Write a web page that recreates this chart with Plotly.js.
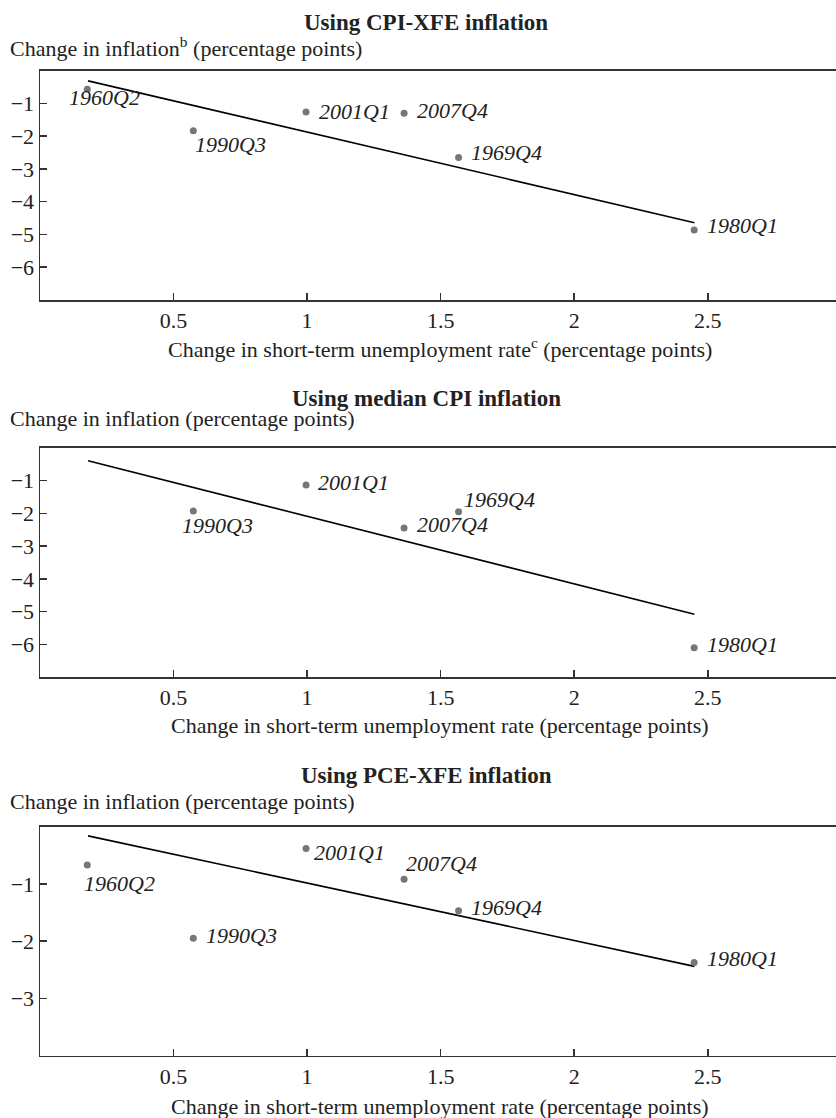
<!DOCTYPE html>
<html><head><meta charset="utf-8">
<script src="https://cdn.plot.ly/plotly-3.0.1.min.js"></script>
<style>html,body{margin:0;padding:0;background:#fff}#chart{width:836px;height:1118px}</style>
</head><body><div id="chart"></div>
<script>
// ---- data ----
const labels      = ['1960Q2','1969Q4','1980Q1','1990Q3','2001Q1','2007Q4'];
const unempChange = [0.177, 1.567, 2.449, 0.574, 0.996, 1.363];
const cpiXfe      = [-0.57, -2.65, -4.86, -1.83, -1.26, -1.30];
const medianCpi   = [null,  -1.95, -6.10, -1.93, -1.14, -2.45];
const pceXfe      = [-0.67, -1.47, -2.37, -1.95, -0.38, -0.92];
const fitX        = [0.18, 2.45];
const cpiXfeFit   = [-0.31, -4.64];
const medianFit   = [-0.40, -5.08];
const pceFit      = [-0.16, -2.44];
const xTicks      = [0.5, 1, 1.5, 2, 2.5];
const yTicksA     = [-1, -2, -3, -4, -5, -6];
const yTicksB     = [-1, -2, -3];

// ---- styling ----
const W = 836, H = 1118;
const FONT = 'Liberation Serif, Times New Roman, serif';
const TXT = '#222';
const px = v => v / W;
const py = v => 1 - v / H;

const panels = [
  {title: 'Using CPI-XFE inflation', ytitle: 'Change in inflation<sup>b</sup> (percentage points)',
   xtitle: 'Change in short-term unemployment rate<sup>c</sup> (percentage points)',
   y: cpiXfe, fit: cpiXfeFit, top: 70.7, bottom: 300, yr: [-7, 0], yt: yTicksA,
   tY: 23, ytY: 47, xtY: 348,
   off: {'1960Q2':[-20,-8],'1990Q3':[0,-14],'2001Q1':[11,0],'2007Q4':[11,3],'1969Q4':[10,5],'1980Q1':[11,4]}},
  {title: 'Using median CPI inflation', ytitle: 'Change in inflation (percentage points)',
   xtitle: 'Change in short-term unemployment rate (percentage points)',
   y: medianCpi, fit: medianFit, top: 447.7, bottom: 677.3, yr: [-7, 0], yt: yTicksA,
   tY: 398, ytY: 418, xtY: 725,
   off: {'2001Q1':[10,3],'1990Q3':[-13,-14],'2007Q4':[11,4],'1969Q4':[3,12],'1980Q1':[11,3]}},
  {title: 'Using PCE-XFE inflation', ytitle: 'Change in inflation (percentage points)',
   xtitle: 'Change in short-term unemployment rate (percentage points)',
   y: pceXfe, fit: pceFit, top: 826.7, bottom: 1055.7, yr: [-4, 0], yt: yTicksB,
   tY: 775, ytY: 801.7, xtY: 1106.7,
   off: {'1960Q2':[-5,-18],'2001Q1':[6,-4],'2007Q4':[0,16],'1969Q4':[10,3],'1990Q3':[11,3],'1980Q1':[11,4]}}
];

const data = [];
const layout = {
  width: W, height: H, margin: {l:0, r:0, t:0, b:0},
  paper_bgcolor: '#fff', plot_bgcolor: '#fff', showlegend: false,
  font: {family: FONT, size: 22, color: TXT},
  annotations: []
};

panels.forEach((p, i) => {
  const n = i + 1;
  const xa = 'x' + (n === 1 ? '' : n), ya = 'y' + (n === 1 ? '' : n);
  data.push({x: fitX, y: p.fit, xaxis: xa, yaxis: ya, mode: 'lines', type: 'scatter',
             line: {color: '#000', width: 1.6}, hoverinfo: 'skip'});
  data.push({x: unempChange, y: p.y, xaxis: xa, yaxis: ya, mode: 'markers', type: 'scatter',
             marker: {color: '#777', size: 7}});
  const axX = {domain: [px(40), 1], range: [0, 2.98], tickvals: xTicks, ticktext: xTicks.map(String),
    showgrid: false, zeroline: false, showline: true, mirror: true, linecolor: '#333', linewidth: 1.5,
    ticks: 'inside', ticklen: 7, tickcolor: '#333', tickwidth: 1.5,
    tickfont: {family: FONT, size: 22, color: TXT}, anchor: ya};
  const axY = {domain: [py(p.bottom), py(p.top)], range: p.yr, tickvals: p.yt,
    showgrid: false, zeroline: false, showline: true, mirror: false, linecolor: '#333', linewidth: 1.5,
    ticks: 'inside', ticklen: 7, tickcolor: '#333', tickwidth: 1.5,
    tickfont: {family: FONT, size: 22, color: TXT}, anchor: xa};
  layout['xaxis' + (n === 1 ? '' : n)] = axX;
  layout['yaxis' + (n === 1 ? '' : n)] = axY;

  layout.annotations.push({xref: 'paper', yref: 'paper', x: px(426), y: py(p.tY), xanchor: 'center', yanchor: 'middle',
    text: '<b>' + p.title + '</b>', showarrow: false, font: {family: FONT, size: 23, color: TXT}});
  layout.annotations.push({xref: 'paper', yref: 'paper', x: px(8), y: py(p.ytY), xanchor: 'left', yanchor: 'middle',
    text: p.ytitle, showarrow: false, font: {family: FONT, size: 22, color: TXT}});
  layout.annotations.push({xref: 'paper', yref: 'paper', x: px(440), y: py(p.xtY), xanchor: 'center', yanchor: 'middle',
    text: p.xtitle, showarrow: false, font: {family: FONT, size: 22, color: TXT}});

  labels.forEach((lab, k) => {
    if (p.y[k] === null || !p.off[lab]) return;
    const o = p.off[lab];
    layout.annotations.push({xref: xa, yref: ya, x: unempChange[k], y: p.y[k], xanchor: 'left', yanchor: 'middle',
      xshift: o[0], yshift: o[1], text: '<i>' + lab + '</i>', showarrow: false,
      font: {family: FONT, size: 22, color: TXT}});
  });
});

Plotly.newPlot('chart', data, layout, {staticPlot: true, displayModeBar: false});
</script></body></html>
